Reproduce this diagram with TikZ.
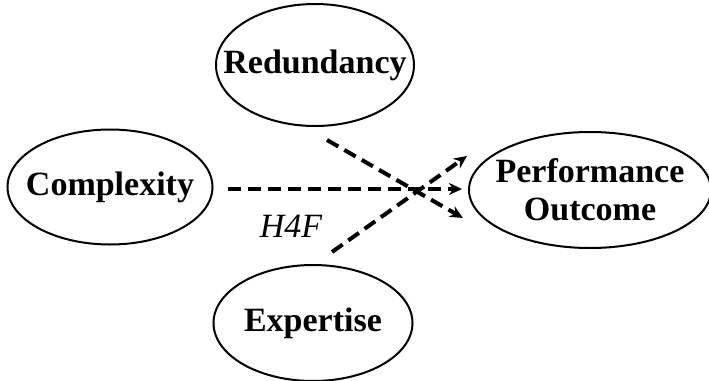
\documentclass[tikz,border=0pt]{standalone}
\usepackage{fontspec}
\setmainfont{Liberation Serif}
\usetikzlibrary{shapes.geometric,arrows.meta}

\begin{document}
\begin{tikzpicture}[x=0.5pt, y=-0.5pt, >={Stealth[length=6.5pt,width=6pt]},
    konstrukt/.style={ellipse, draw, line width=1pt, inner sep=0pt,
        label={[font=\fontsize{17}{19}\selectfont\bfseries, align=center]center:#1}},
    hyp/.style={->, dash pattern=on 6.5pt off 3.5pt, line width=2pt}]
    \useasboundingbox (0,0) rectangle (709,381);

    % Konstrukte
    \node[konstrukt=Redundancy, minimum width=99pt, minimum height=61pt] (red) at (315,65) {};
    \node[konstrukt=Complexity, minimum width=102.5pt, minimum height=57.5pt] (comp) at (110,187) {};
    \node[konstrukt={Performance\\Outcome}, minimum width=121pt, minimum height=58pt] (perf) at (590,190) {};
    \node[konstrukt=Expertise, minimum width=99.5pt, minimum height=58pt] (exp) at (313,323) {};

    % Hypothesen
    \coordinate (red-a) at (327,140);
    \coordinate (red-b) at (463,218);
    \coordinate (comp-a) at (228,189);
    \coordinate (comp-b) at (462,189);
    \coordinate (exp-a) at (332,252);
    \coordinate (exp-b) at (467,156);
    \draw[hyp] (red-a) -- (red-b);
    \draw[hyp] (comp-a) -- (comp-b);
    \draw[hyp] (exp-a) -- (exp-b);

    % Label
    \node[font=\fontsize{17}{19}\selectfont\itshape] (h4f) at (291,226) {H4F};
\end{tikzpicture}
\end{document}
